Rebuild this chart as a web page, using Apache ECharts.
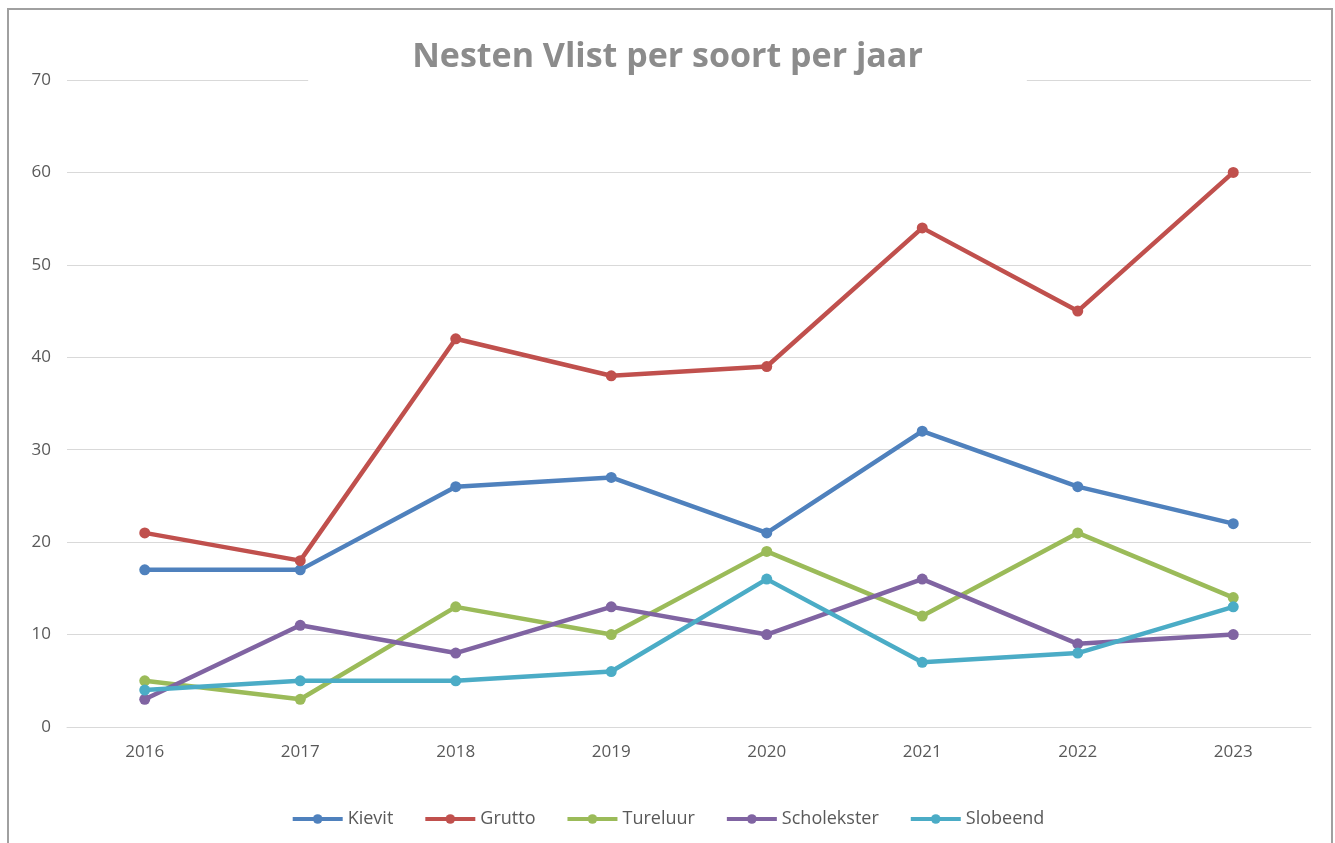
<!DOCTYPE html>
<html>
<head>
<meta charset="utf-8">
<script src="https://cdn.jsdelivr.net/npm/echarts@6/dist/echarts.min.js"></script>
<style>
  html, body { margin: 0; padding: 0; background: #fff; }
  #main { width: 1335px; height: 843px; }
</style>
</head>
<body>
<div id="main"></div>
<script>
// jaren en aantallen nesten per soort
const years = ['2016', '2017', '2018', '2019', '2020', '2021', '2022', '2023']
const kievit = [17, 17, 26, 27, 21, 32, 26, 22]
const grutto = [21, 18, 42, 38, 39, 54, 45, 60]
const tureluur = [5, 3, 13, 10, 19, 12, 21, 14]
const scholekster = [3, 11, 8, 13, 10, 16, 9, 10]
const slobeend = [4, 5, 5, 6, 16, 7, 8, 13]

const colors = ['#4F81BD', '#C0504D', '#9BBB59', '#8064A2', '#4BACC6']
const font = '"Open Sans", "Noto Sans", sans-serif'

function lineSeries(name, data) {
  return {
    name: name,
    type: 'line',
    data: data,
    symbol: 'circle',
    symbolSize: 11,
    lineStyle: { width: 4.5 },
    emphasis: { disabled: true }
  }
}

const myChart = echarts.init(document.getElementById('main'), null, { renderer: 'canvas' })
const option = {
  color: colors,
  animation: false,
  textStyle: { fontFamily: font },
  graphic: [
    {
      type: 'rect',
      z: 100,
      shape: { x: 8, y: 9, width: 1324, height: 900 },
      style: { fill: 'none', stroke: '#a0a0a0', lineWidth: 2 }
    }
  ],
  title: {
    text: 'Nesten Vlist per soort per jaar',
    left: 'center',
    top: 36,
    padding: [4, 104, 10, 104],
    backgroundColor: '#fff',
    z: 10,
    textStyle: {
      color: '#8c8c8c',
      fontSize: 34,
      fontWeight: 'bold',
      fontFamily: font
    }
  },
  legend: {
    bottom: 10,
    left: 'center',
    itemWidth: 50,
    itemHeight: 12,
    itemGap: 30,
    lineStyle: { width: 4 },
    textStyle: { color: '#595959', fontSize: 18, fontFamily: font },
    data: ['Kievit', 'Grutto', 'Tureluur', 'Scholekster', 'Slobeend']
  },
  grid: {
    left: 67,
    right: 24,
    top: 80,
    bottom: 116
  },
  xAxis: {
    type: 'category',
    data: years,
    axisTick: { show: false },
    axisLine: { lineStyle: { color: '#d9d9d9', width: 1 } },
    axisLabel: { color: '#595959', fontSize: 17, margin: 17 },
    splitLine: { show: false }
  },
  yAxis: {
    type: 'value',
    min: 0,
    max: 70,
    interval: 10,
    axisLine: { show: false },
    axisTick: { show: false },
    axisLabel: { color: '#595959', fontSize: 17, margin: 16 },
    splitLine: { lineStyle: { color: '#d9d9d9', width: 1 } }
  },
  series: [
    lineSeries('Kievit', kievit),
    lineSeries('Grutto', grutto),
    lineSeries('Tureluur', tureluur),
    lineSeries('Scholekster', scholekster),
    lineSeries('Slobeend', slobeend)
  ]
}
myChart.setOption(option)
</script>
</body>
</html>
